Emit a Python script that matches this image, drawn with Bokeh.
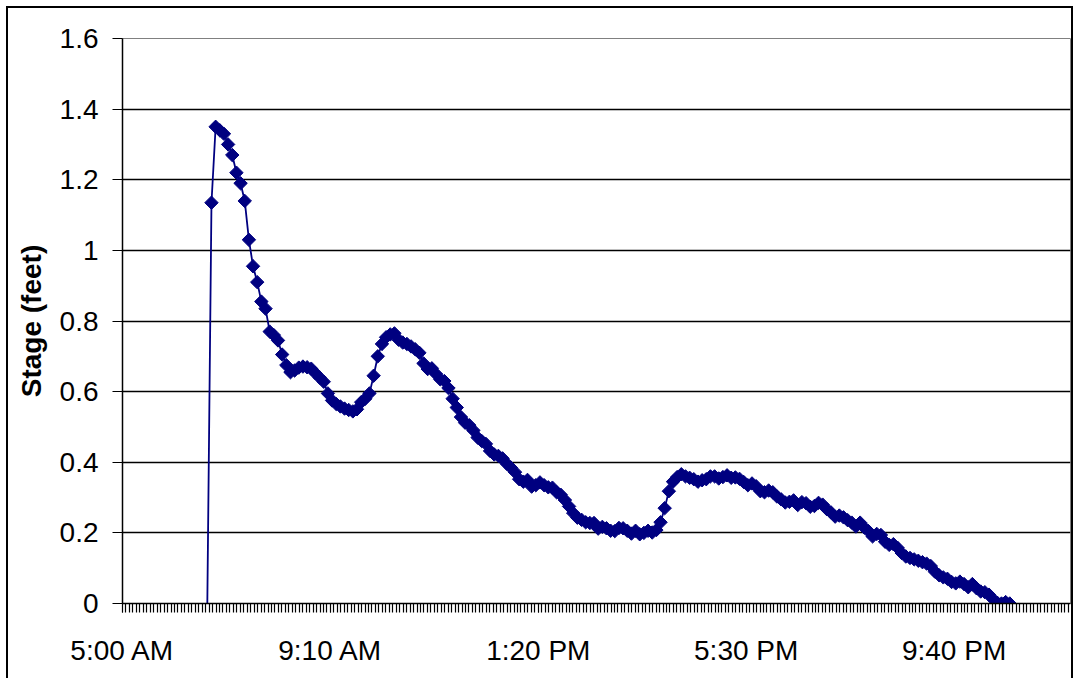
from bokeh.plotting import figure
from bokeh.models import Range1d, FixedTicker, ColumnDataSource, CDSView, IndexFilter
from bokeh.embed import file_html
from bokeh.resources import INLINE
import numpy as np

# ---- data ----
start_minute = 402      # 6:42 AM, minutes after midnight
step_minutes = 5
stage_feet = [
    0.0, 1.135, 1.35, 1.34, 1.33, 1.30, 1.27, 1.22, 1.19, 1.14,
    1.03, 0.955, 0.91, 0.855, 0.835, 0.77, 0.76, 0.745, 0.705, 0.675,
    0.655, 0.66, 0.668, 0.671, 0.669, 0.665, 0.652, 0.64, 0.628, 0.595,
    0.575, 0.565, 0.558, 0.552, 0.548, 0.544, 0.55, 0.57, 0.58, 0.595,
    0.645, 0.70, 0.735, 0.754, 0.762, 0.765, 0.747, 0.739, 0.735, 0.728,
    0.72, 0.71, 0.68, 0.664, 0.666, 0.65, 0.635, 0.63, 0.61, 0.58,
    0.555, 0.528, 0.512, 0.505, 0.49, 0.47, 0.46, 0.452, 0.432, 0.422,
    0.418, 0.411, 0.396, 0.385, 0.372, 0.352, 0.345, 0.35, 0.331, 0.335,
    0.343, 0.335, 0.329, 0.328, 0.315, 0.308, 0.293, 0.275, 0.256, 0.243,
    0.237, 0.23, 0.228, 0.228, 0.212, 0.217, 0.213, 0.206, 0.205, 0.214,
    0.213, 0.206, 0.198, 0.206, 0.196, 0.2, 0.206, 0.201, 0.208, 0.23,
    0.27, 0.318, 0.345, 0.358, 0.366, 0.36, 0.356, 0.352, 0.345, 0.349,
    0.352, 0.36, 0.36, 0.354, 0.358, 0.363, 0.356, 0.357, 0.353, 0.344,
    0.335, 0.34, 0.332, 0.318, 0.315, 0.32, 0.315, 0.303, 0.295, 0.286,
    0.288, 0.292, 0.279, 0.287, 0.284, 0.274, 0.276, 0.285, 0.28, 0.267,
    0.258, 0.246, 0.249, 0.244, 0.236, 0.229, 0.218, 0.229, 0.215, 0.205,
    0.19, 0.197, 0.194, 0.175, 0.166, 0.168, 0.158, 0.143, 0.133, 0.129,
    0.125, 0.121, 0.117, 0.113, 0.106, 0.09, 0.08, 0.074, 0.07, 0.061,
    0.057, 0.062, 0.055, 0.046, 0.055, 0.043, 0.034, 0.032, 0.025, 0.012,
    0.002, 0.0, 0.004, 0.0,
]
times_minutes = [start_minute + step_minutes * i for i in range(len(stage_feet))]

x_tick_minutes = [300, 550, 800, 1050, 1300]
x_tick_labels = ["5:00 AM", "9:10 AM", "1:20 PM", "5:30 PM", "9:40 PM"]
y_ticks = [0, 0.2, 0.4, 0.6, 0.8, 1.0, 1.2, 1.4, 1.6]
y_tick_labels = ["0", "0.2", "0.4", "0.6", "0.8", "1", "1.2", "1.4", "1.6"]
y_label = "Stage (feet)"

FONT = "Liberation Sans"
NAVY = "#000080"

p = figure(width=1073, height=678, output_backend="svg", toolbar_location=None,
           x_range=Range1d(300, 1440), y_range=Range1d(0, 1.6),
           min_border_left=122, min_border_right=3, min_border_top=38, min_border_bottom=75)
p.background_fill_color = "white"
p.border_fill_color = "white"
p.border_fill_alpha = 0
p.outline_line_color = "#808080"
p.outline_line_width = 1

# outer chart-area border (left, top, right), drawn as host background
p.styles = {
    "background-color": "white",
    "background-image": ("linear-gradient(black, black), "
                         "linear-gradient(black, black), "
                         "linear-gradient(black, black)"),
    "background-size": "2px 100%, calc(100% - 8px) 2px, 2px 100%",
    "background-position": "6px 6px, 6px 6px, calc(100% - 0px) 6px",
    "background-repeat": "no-repeat",
}

# grid
p.xgrid.visible = False
p.ygrid.ticker = FixedTicker(ticks=[v for v in y_ticks if 0 < v < 1.6])
p.ygrid.grid_line_color = "black"
p.ygrid.grid_line_width = 1.5

# x axis
minor = list(np.arange(300, 1440.1, 250 / 60))
p.xaxis.ticker = FixedTicker(ticks=x_tick_minutes, minor_ticks=minor)
p.xaxis.major_label_overrides = dict(zip(x_tick_minutes, x_tick_labels))
p.xaxis.major_tick_out = 9
p.xaxis.major_tick_in = 0
p.xaxis.minor_tick_out = 9
p.xaxis.minor_tick_in = 0
p.xaxis.major_tick_line_color = "black"
p.xaxis.minor_tick_line_color = "black"
p.xaxis.minor_tick_line_width = 1.2
p.xaxis.axis_line_color = "black"
p.xaxis.axis_line_width = 1.5
p.xaxis.major_label_text_font = FONT
p.xaxis.major_label_text_font_size = "28px"
p.xaxis.major_label_text_color = "black"
p.xaxis.major_label_standoff = 22

# y axis
p.yaxis.ticker = FixedTicker(ticks=y_ticks)
p.yaxis.major_label_overrides = dict(zip(y_ticks, y_tick_labels))
p.yaxis.minor_tick_line_color = None
p.yaxis.major_tick_out = 10
p.yaxis.major_tick_in = 0
p.yaxis.major_tick_line_color = "black"
p.yaxis.axis_line_color = "black"
p.yaxis.axis_line_width = 1.5
p.yaxis.major_label_text_font = FONT
p.yaxis.major_label_text_font_size = "28px"
p.yaxis.major_label_text_color = "black"
p.yaxis.major_label_standoff = 14
p.yaxis.axis_label = y_label
p.yaxis.axis_label_text_font = FONT
p.yaxis.axis_label_text_font_size = "28px"
p.yaxis.axis_label_text_font_style = "bold"
p.yaxis.axis_label_text_color = "black"
p.yaxis.axis_label_standoff = 10

src = ColumnDataSource(dict(t=times_minutes, v=stage_feet))
p.line("t", "v", source=src, line_color=NAVY, line_width=1.8)
view = CDSView(filter=IndexFilter(list(range(1, len(stage_feet)))))
p.scatter("t", "v", source=src, view=view, marker="square", angle=np.pi / 4,
          size=9.5, fill_color=NAVY, line_color=NAVY, line_width=1)

open("out.html", "w").write(file_html(p, INLINE))
